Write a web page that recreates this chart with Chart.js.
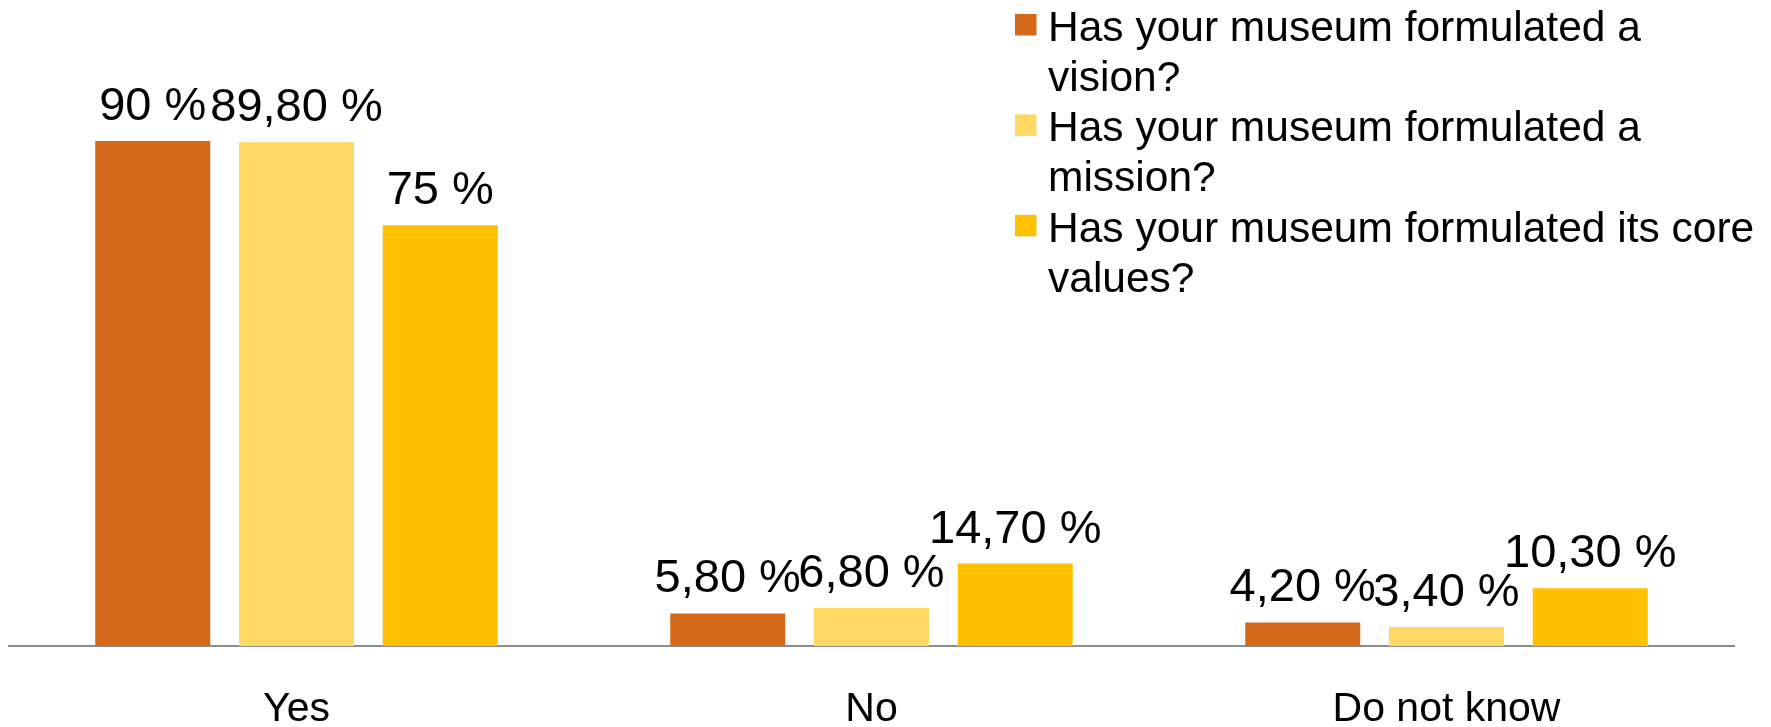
<!DOCTYPE html>
<html>
<head>
<meta charset="utf-8">
<script src="https://cdn.jsdelivr.net/npm/chart.js@4"></script>
<style>
  html, body { margin: 0; padding: 0; background: #fff; }
  canvas { display: block; }
</style>
</head>
<body>
<canvas id="chart" width="1771" height="727"></canvas>
<script>
const categories = ["Yes", "No", "Do not know"];
const visionValues = [90, 5.8, 4.2];
const missionValues = [89.8, 6.8, 3.4];
const coreValues = [75, 14.7, 10.3];
const legendLines = [
  ["Has your museum formulated a", "vision?"],
  ["Has your museum formulated a", "mission?"],
  ["Has your museum formulated its core", "values?"]
];
const colors = ["#D5691B", "#FFD966", "#FFC000"];
const FONT = "'Liberation Sans', Arial, sans-serif";

function formatPercent(v) {
  if (Number.isInteger(v)) return v + " %";
  return v.toFixed(2).replace(".", ",") + " %";
}

// value text above every bar
const valueLabels = {
  id: "valueLabels",
  afterDatasetsDraw(chart) {
    const ctx = chart.ctx;
    ctx.save();
    ctx.font = "47px " + FONT;
    ctx.fillStyle = "#000";
    ctx.textAlign = "center";
    ctx.textBaseline = "alphabetic";
    chart.data.datasets.forEach((ds, i) => {
      chart.getDatasetMeta(i).data.forEach((bar, j) => {
        ctx.fillText(formatPercent(ds.data[j]), bar.x, bar.y - 21);
      });
    });
    ctx.restore();
  }
};

// two-line legend in the top right corner
const sideLegend = {
  id: "sideLegend",
  afterDraw(chart) {
    const ctx = chart.ctx;
    let y = 40.7;
    ctx.save();
    ctx.font = "42.5px " + FONT;
    ctx.textBaseline = "alphabetic";
    chart.data.datasets.forEach((ds, i) => {
      ctx.fillStyle = ds.backgroundColor;
      ctx.fillRect(1015, y - 26.7, 21.5, 21.5);
      ctx.fillStyle = "#000";
      legendLines[i].forEach(line => {
        ctx.fillText(line, 1048, y);
        y += 50.2;
      });
    });
    ctx.restore();
  }
};

const series = [visionValues, missionValues, coreValues];

new Chart(document.getElementById("chart"), {
  type: "bar",
  data: {
    labels: categories,
    datasets: series.map((vals, i) => ({
      label: legendLines[i].join(" "),
      data: vals,
      backgroundColor: colors[i],
      borderWidth: 0,
      categoryPercentage: 0.75,
      barPercentage: 0.8
    }))
  },
  options: {
    responsive: false,
    animation: false,
    layout: { padding: { top: 85, left: 9, right: 37, bottom: 0 } },
    plugins: {
      legend: { display: false },
      tooltip: { enabled: false }
    },
    scales: {
      x: {
        grid: { display: false, drawTicks: false },
        border: { display: true, color: "#8C8C8C", width: 2 },
        ticks: {
          color: "#000",
          font: { family: FONT, size: 41, lineHeight: 1.2 },
          padding: 39
        },
        afterFit(scale) { scale.height = 81; }
      },
      y: { display: false, min: 0, max: 100 }
    }
  },
  plugins: [valueLabels, sideLegend]
});
</script>
</body>
</html>
